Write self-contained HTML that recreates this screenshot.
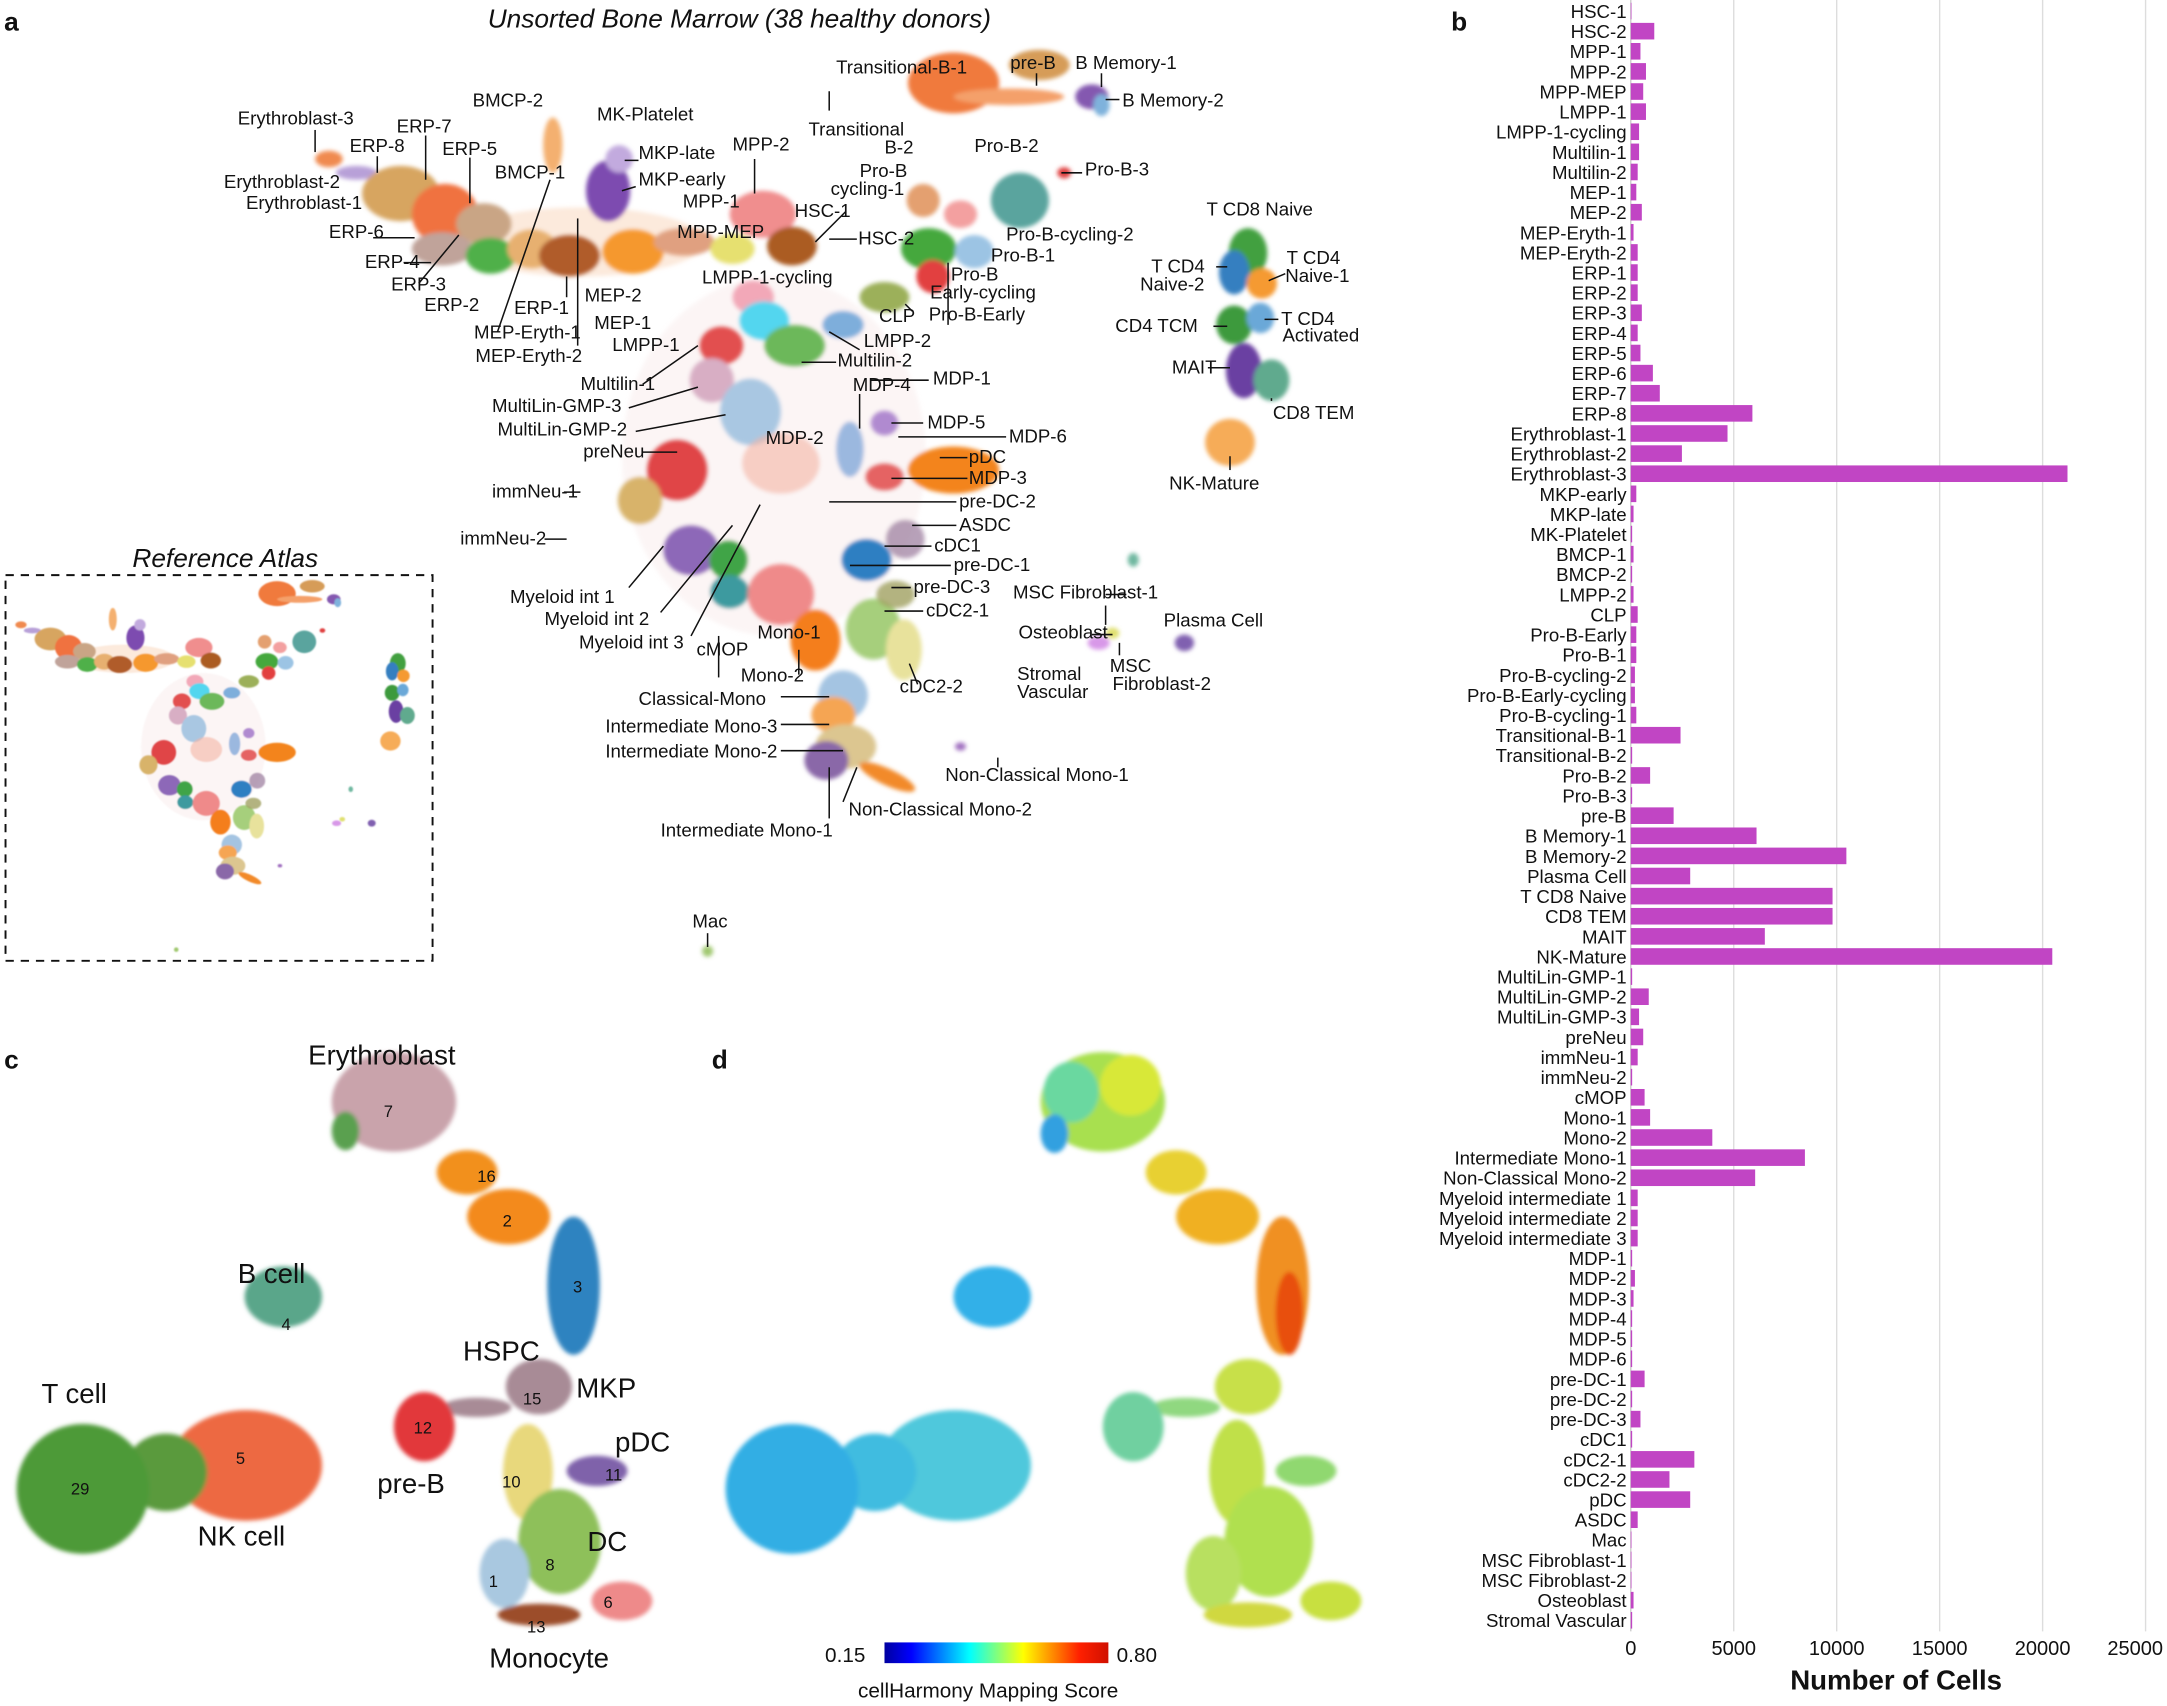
<!DOCTYPE html>
<html><head><meta charset="utf-8"><style>
html,body{margin:0;padding:0;background:#fff}
svg{display:block}
text{font-family:"Liberation Sans",sans-serif;fill:#111}
.l{font-size:13.5px}
.b text{font-size:13.5px;text-anchor:end}
.b rect{fill:#c145c4}
.n{font-size:12px;text-anchor:middle}
.c{font-size:20px}
</style></head><body>
<svg width="2167" height="1706" viewBox="0 0 1568 1234" preserveAspectRatio="none" xmlns="http://www.w3.org/2000/svg">
<defs>
<filter id="f" x="-20%" y="-20%" width="140%" height="140%"><feGaussianBlur stdDeviation="1.5"/></filter>
<linearGradient id="jet" x1="0" x2="1" y1="0" y2="0">
<stop offset="0" stop-color="#0000a0"/><stop offset="0.12" stop-color="#0000ff"/><stop offset="0.38" stop-color="#00ffff"/><stop offset="0.62" stop-color="#ffff00"/><stop offset="0.87" stop-color="#ff2000"/><stop offset="1" stop-color="#d01000"/></linearGradient>
<g id="blobs" filter="url(#f)">
<ellipse cx="560" cy="330" rx="110" ry="130" fill="#f3d8d8" opacity="0.25"/>
<ellipse cx="420" cy="175" rx="90" ry="25" fill="#f5c49a" opacity="0.35"/>
<ellipse cx="690" cy="60" rx="33" ry="22" fill="#f07a3e"/>
<ellipse cx="730" cy="70" rx="40" ry="6" fill="#f4a06a"/>
<ellipse cx="752" cy="47" rx="22" ry="11" fill="#d69c58"/>
<ellipse cx="790" cy="70" rx="12" ry="9" fill="#8458b0"/>
<ellipse cx="797" cy="76" rx="6" ry="8" fill="#7fb2dc"/>
<ellipse cx="770" cy="125" rx="5" ry="4" fill="#e04040"/>
<ellipse cx="238" cy="115" rx="10" ry="6" fill="#f08a50"/>
<ellipse cx="258" cy="125" rx="15" ry="5" fill="#b8a0d8"/>
<ellipse cx="290" cy="140" rx="28" ry="20" fill="#d7a560"/>
<ellipse cx="322" cy="155" rx="24" ry="22" fill="#f07240"/>
<ellipse cx="350" cy="162" rx="20" ry="15" fill="#c9a585"/>
<ellipse cx="320" cy="180" rx="22" ry="12" fill="#c0a39a"/>
<ellipse cx="355" cy="185" rx="18" ry="13" fill="#50b048"/>
<ellipse cx="385" cy="180" rx="18" ry="14" fill="#e7b070"/>
<ellipse cx="412" cy="185" rx="22" ry="15" fill="#b05c2c"/>
<ellipse cx="400" cy="105" rx="7" ry="20" fill="#f4b070"/>
<ellipse cx="440" cy="138" rx="16" ry="22" fill="#7d4cb0"/>
<ellipse cx="448" cy="115" rx="10" ry="10" fill="#c2aade"/>
<ellipse cx="458" cy="182" rx="22" ry="16" fill="#f5982f"/>
<ellipse cx="495" cy="175" rx="22" ry="10" fill="#e0a080"/>
<ellipse cx="552" cy="155" rx="24" ry="17" fill="#f08e8e"/>
<ellipse cx="530" cy="180" rx="16" ry="11" fill="#e6e070"/>
<ellipse cx="573" cy="178" rx="18" ry="14" fill="#ab5b22"/>
<ellipse cx="738" cy="145" rx="21" ry="20" fill="#5aa49e"/>
<ellipse cx="695" cy="155" rx="12" ry="10" fill="#f3a0a0"/>
<ellipse cx="668" cy="145" rx="12" ry="12" fill="#e4a070"/>
<ellipse cx="672" cy="180" rx="20" ry="15" fill="#45a83e"/>
<ellipse cx="705" cy="182" rx="14" ry="12" fill="#9cc4e4"/>
<ellipse cx="675" cy="200" rx="12" ry="12" fill="#e24040"/>
<ellipse cx="640" cy="215" rx="18" ry="11" fill="#9cb05a"/>
<ellipse cx="545" cy="215" rx="15" ry="12" fill="#f2a8b8"/>
<ellipse cx="553" cy="232" rx="18" ry="14" fill="#52d6ef"/>
<ellipse cx="522" cy="250" rx="16" ry="14" fill="#e25050"/>
<ellipse cx="575" cy="250" rx="22" ry="15" fill="#6cb85a"/>
<ellipse cx="610" cy="235" rx="15" ry="10" fill="#4a90d0" opacity="0.7"/>
<ellipse cx="515" cy="275" rx="16" ry="16" fill="#d8aec4"/>
<ellipse cx="543" cy="298" rx="22" ry="24" fill="#a9c7e2"/>
<ellipse cx="490" cy="340" rx="22" ry="22" fill="#e04447"/>
<ellipse cx="463" cy="362" rx="16" ry="17" fill="#d8b36a"/>
<ellipse cx="565" cy="335" rx="28" ry="22" fill="#f3b4a4" opacity="0.6"/>
<ellipse cx="615" cy="325" rx="10" ry="20" fill="#5b8fd0" opacity="0.6"/>
<ellipse cx="640" cy="306" rx="10" ry="9" fill="#b08ad0"/>
<ellipse cx="690" cy="340" rx="33" ry="17" fill="#f3841a"/>
<ellipse cx="640" cy="345" rx="14" ry="10" fill="#e04040" opacity="0.8"/>
<ellipse cx="655" cy="390" rx="14" ry="14" fill="#a58aa8" opacity="0.8"/>
<ellipse cx="627" cy="405" rx="18" ry="15" fill="#2f7fc2"/>
<ellipse cx="500" cy="398" rx="20" ry="18" fill="#8d68b8"/>
<ellipse cx="527" cy="405" rx="14" ry="14" fill="#3fa446"/>
<ellipse cx="528" cy="428" rx="14" ry="12" fill="#3d9a9f"/>
<ellipse cx="565" cy="430" rx="24" ry="22" fill="#ef8a8a"/>
<ellipse cx="632" cy="455" rx="20" ry="22" fill="#a6cf7c"/>
<ellipse cx="654" cy="470" rx="13" ry="22" fill="#e8e29c"/>
<ellipse cx="648" cy="430" rx="14" ry="10" fill="#a0a060" opacity="0.8"/>
<ellipse cx="590" cy="463" rx="18" ry="22" fill="#f47e1c"/>
<ellipse cx="610" cy="503" rx="18" ry="18" fill="#a4c4e2"/>
<ellipse cx="603" cy="517" rx="16" ry="13" fill="#f5a552"/>
<ellipse cx="612" cy="540" rx="22" ry="16" fill="#dcc690"/>
<ellipse cx="598" cy="550" rx="16" ry="14" fill="#8a68a8"/>
<ellipse cx="642" cy="562" rx="22" ry="6" fill="#f28a2a" transform="rotate(25 642 562)"/>
<ellipse cx="903" cy="183" rx="14" ry="18" fill="#43a040"/>
<ellipse cx="893" cy="197" rx="11" ry="16" fill="#357fc0"/>
<ellipse cx="913" cy="205" rx="11" ry="11" fill="#f59a30"/>
<ellipse cx="893" cy="235" rx="13" ry="14" fill="#3c9a3c"/>
<ellipse cx="912" cy="230" rx="10" ry="11" fill="#6aa8d8"/>
<ellipse cx="900" cy="268" rx="13" ry="20" fill="#6a3fa2"/>
<ellipse cx="920" cy="275" rx="13" ry="15" fill="#60aa8e"/>
<ellipse cx="890" cy="320" rx="18" ry="17" fill="#f6ac58"/>
<ellipse cx="857" cy="465" rx="7" ry="6" fill="#8060b0"/>
<ellipse cx="795" cy="465" rx="8" ry="5" fill="#d898e8"/>
<ellipse cx="805" cy="458" rx="5" ry="4" fill="#e0e070"/>
<ellipse cx="820" cy="405" rx="4" ry="5" fill="#70b8a0"/>
<ellipse cx="512" cy="688" rx="4" ry="4" fill="#a0c870"/>
<ellipse cx="695" cy="540" rx="4" ry="3" fill="#a070c0"/>
</g>
</defs>

<text x="3" y="22" style="font-size:19px;font-weight:bold">a</text>
<text x="535" y="20" text-anchor="middle" style="font-size:19px;font-style:italic">Unsorted Bone Marrow (38 healthy donors)</text>
<use href="#blobs"/>
<g class="l">
<text x="605" y="53">Transitional-B-1</text><text x="731" y="50">pre-B</text><text x="778" y="50">B Memory-1</text><text x="812" y="77">B Memory-2</text>
<text x="172" y="90">Erythroblast-3</text><text x="287" y="96">ERP-7</text><text x="253" y="110">ERP-8</text><text x="320" y="112">ERP-5</text>
<text x="342" y="77">BMCP-2</text><text x="432" y="87">MK-Platelet</text><text x="585" y="98">Transitional</text><text x="640" y="111">B-2</text>
<text x="462" y="115">MKP-late</text><text x="462" y="134">MKP-early</text><text x="530" y="109">MPP-2</text><text x="705" y="110">Pro-B-2</text><text x="785" y="127">Pro-B-3</text>
<text x="162" y="136">Erythroblast-2</text><text x="358" y="129">BMCP-1</text><text x="622" y="128">Pro-B</text><text x="601" y="141">cycling-1</text>
<text x="178" y="151">Erythroblast-1</text><text x="494" y="150">MPP-1</text><text x="575" y="157">HSC-1</text><text x="490" y="172">MPP-MEP</text><text x="621" y="177">HSC-2</text>
<text x="238" y="172">ERP-6</text><text x="728" y="174">Pro-B-cycling-2</text><text x="264" y="194">ERP-4</text><text x="717" y="189">Pro-B-1</text>
<text x="283" y="210">ERP-3</text><text x="688" y="203">Pro-B</text><text x="673" y="216">Early-cycling</text><text x="423" y="218">MEP-2</text><text x="508" y="205">LMPP-1-cycling</text>
<text x="307" y="225">ERP-2</text><text x="372" y="227">ERP-1</text><text x="430" y="238">MEP-1</text><text x="636" y="233">CLP</text><text x="672" y="232">Pro-B-Early</text>
<text x="343" y="245">MEP-Eryth-1</text><text x="443" y="254">LMPP-1</text><text x="625" y="251">LMPP-2</text><text x="344" y="262">MEP-Eryth-2</text>
<text x="606" y="265">Multilin-2</text><text x="675" y="278">MDP-1</text><text x="420" y="282">Multilin-1</text><text x="617" y="283">MDP-4</text>
<text x="356" y="298">MultiLin-GMP-3</text><text x="671" y="310">MDP-5</text><text x="360" y="315">MultiLin-GMP-2</text><text x="730" y="320">MDP-6</text>
<text x="554" y="321">MDP-2</text><text x="422" y="331">preNeu</text><text x="701" y="335">pDC</text><text x="701" y="350">MDP-3</text><text x="356" y="360">immNeu-1</text>
<text x="694" y="367">pre-DC-2</text><text x="694" y="384">ASDC</text><text x="333" y="394">immNeu-2</text><text x="676" y="399">cDC1</text><text x="690" y="413">pre-DC-1</text>
<text x="369" y="436">Myeloid int 1</text><text x="661" y="429">pre-DC-3</text><text x="733" y="433">MSC Fibroblast-1</text><text x="670" y="446">cDC2-1</text>
<text x="394" y="452">Myeloid int 2</text><text x="842" y="453">Plasma Cell</text><text x="419" y="469">Myeloid int 3</text><text x="504" y="474">cMOP</text>
<text x="548" y="462">Mono-1</text><text x="737" y="462">Osteoblast</text><text x="536" y="493">Mono-2</text><text x="803" y="486">MSC</text><text x="736" y="492">Stromal</text>
<text x="651" y="501">cDC2-2</text><text x="805" y="499">Fibroblast-2</text><text x="462" y="510">Classical-Mono</text><text x="736" y="505">Vascular</text>
<text x="438" y="530">Intermediate Mono-3</text><text x="438" y="548">Intermediate Mono-2</text><text x="684" y="565">Non-Classical Mono-1</text>
<text x="614" y="590">Non-Classical Mono-2</text><text x="478" y="605">Intermediate Mono-1</text><text x="501" y="671">Mac</text>
<text x="873" y="156">T CD8 Naive</text><text x="833" y="197">T CD4</text><text x="825" y="210">Naive-2</text><text x="931" y="191">T CD4</text><text x="930" y="204">Naive-1</text>
<text x="807" y="240">CD4 TCM</text><text x="927" y="235">T CD4</text><text x="928" y="247">Activated</text><text x="848" y="270">MAIT</text><text x="921" y="303">CD8 TEM</text><text x="846" y="354">NK-Mature</text>
</g>
<g stroke="#111" stroke-width="1.1">
<line x1="600" y1="66" x2="600" y2="80"/><line x1="750" y1="53" x2="750" y2="62"/><line x1="797" y1="53" x2="797" y2="63"/><line x1="800" y1="72" x2="810" y2="72"/>
<line x1="228" y1="94" x2="228" y2="110"/><line x1="308" y1="98" x2="308" y2="130"/><line x1="273" y1="113" x2="273" y2="125"/><line x1="340" y1="114" x2="340" y2="147"/>
<line x1="270" y1="172" x2="300" y2="172"/><line x1="292" y1="190" x2="312" y2="190"/><line x1="303" y1="205" x2="332" y2="170"/>
<line x1="360" y1="240" x2="398" y2="130"/><line x1="418" y1="250" x2="418" y2="158"/><line x1="410" y1="215" x2="410" y2="200"/>
<line x1="460" y1="135" x2="450" y2="138"/><line x1="462" y1="116" x2="452" y2="116"/><line x1="546" y1="115" x2="546" y2="140"/>
<line x1="612" y1="153" x2="590" y2="175"/><line x1="620" y1="173" x2="600" y2="173"/><line x1="686" y1="235" x2="686" y2="190"/>
<line x1="660" y1="225" x2="655" y2="220"/><line x1="622" y1="253" x2="600" y2="240"/><line x1="605" y1="262" x2="580" y2="262"/>
<line x1="672" y1="275" x2="630" y2="275"/><line x1="622" y1="285" x2="622" y2="310"/><line x1="668" y1="306" x2="645" y2="306"/><line x1="728" y1="316" x2="650" y2="316"/>
<line x1="700" y1="331" x2="680" y2="331"/><line x1="700" y1="346" x2="645" y2="346"/><line x1="465" y1="327" x2="490" y2="327"/><line x1="408" y1="356" x2="420" y2="356"/>
<line x1="394" y1="390" x2="410" y2="390"/><line x1="692" y1="363" x2="600" y2="363"/><line x1="692" y1="380" x2="660" y2="380"/><line x1="674" y1="395" x2="640" y2="395"/>
<line x1="688" y1="409" x2="615" y2="409"/><line x1="659" y1="425" x2="645" y2="425"/><line x1="668" y1="442" x2="640" y2="442"/>
<line x1="455" y1="425" x2="480" y2="395"/><line x1="478" y1="443" x2="530" y2="380"/><line x1="500" y1="460" x2="550" y2="365"/>
<line x1="455" y1="295" x2="505" y2="280"/><line x1="460" y1="312" x2="525" y2="300"/><line x1="465" y1="278" x2="505" y2="250"/>
<line x1="520" y1="490" x2="520" y2="460"/><line x1="578" y1="488" x2="578" y2="470"/><line x1="565" y1="504" x2="600" y2="504"/>
<line x1="565" y1="524" x2="600" y2="524"/><line x1="565" y1="543" x2="610" y2="543"/><line x1="600" y1="592" x2="600" y2="555"/><line x1="610" y1="580" x2="620" y2="555"/>
<line x1="722" y1="548" x2="722" y2="555"/><line x1="512" y1="675" x2="512" y2="685"/><line x1="664" y1="495" x2="658" y2="480"/>
<line x1="800" y1="430" x2="815" y2="430"/><line x1="800" y1="438" x2="800" y2="452"/><line x1="790" y1="459" x2="805" y2="459"/><line x1="810" y1="474" x2="810" y2="465"/>
<line x1="878" y1="236" x2="888" y2="236"/><line x1="874" y1="266" x2="890" y2="266"/><line x1="920" y1="288" x2="920" y2="290"/><line x1="890" y1="340" x2="890" y2="330"/>
<line x1="880" y1="193" x2="888" y2="193"/><line x1="930" y1="198" x2="918" y2="203"/><line x1="925" y1="231" x2="915" y2="231"/>
<line x1="783" y1="125" x2="768" y2="125"/>
</g>

<text x="163" y="410" text-anchor="middle" style="font-size:19px;font-style:italic">Reference Atlas</text>
<rect x="4" y="416" width="309" height="279" fill="none" stroke="#111" stroke-width="1.4" stroke-dasharray="6,5"/>
<use href="#blobs" transform="translate(-82.4,404.8) scale(0.41)"/>

<text x="3" y="773" style="font-size:19px;font-weight:bold">c</text>
<g filter="url(#f)">
<ellipse cx="285" cy="797" rx="45" ry="36" fill="#c9a3ab"/>
<ellipse cx="250" cy="818" rx="10" ry="14" fill="#5aa050"/>
<ellipse cx="338" cy="848" rx="22" ry="16" fill="#f2901e"/>
<ellipse cx="368" cy="880" rx="30" ry="20" fill="#f38a1c"/>
<ellipse cx="415" cy="930" rx="19" ry="50" fill="#2e83c0"/>
<ellipse cx="390" cy="1003" rx="24" ry="20" fill="#a88b96"/>
<ellipse cx="345" cy="1018" rx="25" ry="7" fill="#a88b96"/>
<ellipse cx="307" cy="1032" rx="22" ry="25" fill="#e2383a"/>
<ellipse cx="382" cy="1065" rx="18" ry="35" fill="#e8d87c"/>
<ellipse cx="432" cy="1064" rx="22" ry="11" fill="#7f62aa"/>
<ellipse cx="405" cy="1115" rx="30" ry="38" fill="#8ec05a"/>
<ellipse cx="365" cy="1138" rx="18" ry="25" fill="#a9c8e0"/>
<ellipse cx="450" cy="1158" rx="22" ry="14" fill="#ee8a8a"/>
<ellipse cx="390" cy="1168" rx="30" ry="8" fill="#9c4e2a"/>
<ellipse cx="205" cy="938" rx="28" ry="22" fill="#5aa68a"/>
<ellipse cx="178" cy="1060" rx="55" ry="40" fill="#ed6943"/>
<ellipse cx="120" cy="1065" rx="30" ry="28" fill="#5a9a3c"/>
<ellipse cx="60" cy="1077" rx="48" ry="47" fill="#4d9a38"/>
</g>
<g class="c">
<text x="223" y="770">Erythroblast</text><text x="172" y="928">B cell</text><text x="30" y="1015">T cell</text><text x="335" y="984">HSPC</text>
<text x="417" y="1011">MKP</text><text x="445" y="1050">pDC</text><text x="273" y="1080">pre-B</text><text x="425" y="1122">DC</text>
<text x="143" y="1118">NK cell</text><text x="354" y="1206">Monocyte</text>
</g>
<g class="n">
<text x="281" y="808">7</text><text x="352" y="855">16</text><text x="367" y="887">2</text><text x="418" y="935">3</text><text x="207" y="962">4</text>
<text x="385" y="1016">15</text><text x="306" y="1037">12</text><text x="174" y="1059">5</text><text x="370" y="1076">10</text><text x="444" y="1071">11</text>
<text x="58" y="1081">29</text><text x="398" y="1136">8</text><text x="357" y="1148">1</text><text x="440" y="1163">6</text><text x="388" y="1181">13</text>
</g>

<text x="515" y="773" style="font-size:19px;font-weight:bold">d</text>
<g transform="translate(513,0)" filter="url(#f)">
<ellipse cx="285" cy="797" rx="45" ry="36" fill="#a8e050"/>
<ellipse cx="262" cy="790" rx="20" ry="22" fill="#6ad8a0"/>
<ellipse cx="250" cy="820" rx="10" ry="14" fill="#30a0e0"/>
<ellipse cx="305" cy="785" rx="22" ry="22" fill="#d8e838"/>
<ellipse cx="338" cy="848" rx="22" ry="16" fill="#e8d030"/>
<ellipse cx="368" cy="880" rx="30" ry="20" fill="#f0b020"/>
<ellipse cx="415" cy="930" rx="19" ry="50" fill="#f09020"/>
<ellipse cx="420" cy="950" rx="10" ry="30" fill="#e85010"/>
<ellipse cx="390" cy="1003" rx="24" ry="20" fill="#c8e048"/>
<ellipse cx="345" cy="1018" rx="25" ry="7" fill="#90d880"/>
<ellipse cx="307" cy="1032" rx="22" ry="25" fill="#70d0a0"/>
<ellipse cx="382" cy="1065" rx="20" ry="38" fill="#c0e048"/>
<ellipse cx="432" cy="1064" rx="22" ry="11" fill="#90d870"/>
<ellipse cx="405" cy="1115" rx="32" ry="40" fill="#b0e050"/>
<ellipse cx="365" cy="1138" rx="20" ry="27" fill="#b8e060"/>
<ellipse cx="450" cy="1158" rx="22" ry="14" fill="#c8e040"/>
<ellipse cx="390" cy="1168" rx="32" ry="9" fill="#d0d840"/>
<ellipse cx="205" cy="938" rx="28" ry="22" fill="#30b0e8"/>
<ellipse cx="178" cy="1060" rx="55" ry="40" fill="#50c8dc"/>
<ellipse cx="120" cy="1065" rx="30" ry="28" fill="#40bce0"/>
<ellipse cx="60" cy="1077" rx="48" ry="47" fill="#30aee4"/>
</g>
<rect x="640" y="1188" width="162" height="15" fill="url(#jet)"/>
<text x="597" y="1202" style="font-size:15px">0.15</text>
<text x="808" y="1202" style="font-size:15px">0.80</text>
<text x="715" y="1228" text-anchor="middle" style="font-size:15px">cellHarmony Mapping Score</text>

<text x="1050" y="22" style="font-size:19px;font-weight:bold">b</text>
<g stroke="#ddd" stroke-width="1">
<line x1="1254.5" y1="0" x2="1254.5" y2="1180"/><line x1="1329" y1="0" x2="1329" y2="1180"/><line x1="1403.5" y1="0" x2="1403.5" y2="1180"/><line x1="1478" y1="0" x2="1478" y2="1180"/><line x1="1552.5" y1="0" x2="1552.5" y2="1180"/>
</g>
<line x1="1180" y1="0" x2="1180" y2="1180" stroke="#ccc"/>
<g class="b">
<g transform="translate(0,8)"><text x="1177" y="5">HSC-1</text><rect x="1180" y="-6" width="0.5" height="12"/></g>
<g transform="translate(0,22.55)"><text x="1177" y="5">HSC-2</text><rect x="1180" y="-6" width="17" height="12"/></g>
<g transform="translate(0,37.1)"><text x="1177" y="5">MPP-1</text><rect x="1180" y="-6" width="7" height="12"/></g>
<g transform="translate(0,51.65)"><text x="1177" y="5">MPP-2</text><rect x="1180" y="-6" width="11" height="12"/></g>
<g transform="translate(0,66.2)"><text x="1177" y="5">MPP-MEP</text><rect x="1180" y="-6" width="9" height="12"/></g>
<g transform="translate(0,80.75)"><text x="1177" y="5">LMPP-1</text><rect x="1180" y="-6" width="11" height="12"/></g>
<g transform="translate(0,95.3)"><text x="1177" y="5">LMPP-1-cycling</text><rect x="1180" y="-6" width="6" height="12"/></g>
<g transform="translate(0,109.85)"><text x="1177" y="5">Multilin-1</text><rect x="1180" y="-6" width="6" height="12"/></g>
<g transform="translate(0,124.4)"><text x="1177" y="5">Multilin-2</text><rect x="1180" y="-6" width="5" height="12"/></g>
<g transform="translate(0,138.95)"><text x="1177" y="5">MEP-1</text><rect x="1180" y="-6" width="4" height="12"/></g>
<g transform="translate(0,153.5)"><text x="1177" y="5">MEP-2</text><rect x="1180" y="-6" width="8" height="12"/></g>
<g transform="translate(0,168.05)"><text x="1177" y="5">MEP-Eryth-1</text><rect x="1180" y="-6" width="2" height="12"/></g>
<g transform="translate(0,182.6)"><text x="1177" y="5">MEP-Eryth-2</text><rect x="1180" y="-6" width="5" height="12"/></g>
<g transform="translate(0,197.15)"><text x="1177" y="5">ERP-1</text><rect x="1180" y="-6" width="5" height="12"/></g>
<g transform="translate(0,211.7)"><text x="1177" y="5">ERP-2</text><rect x="1180" y="-6" width="5" height="12"/></g>
<g transform="translate(0,226.25)"><text x="1177" y="5">ERP-3</text><rect x="1180" y="-6" width="8" height="12"/></g>
<g transform="translate(0,240.8)"><text x="1177" y="5">ERP-4</text><rect x="1180" y="-6" width="5" height="12"/></g>
<g transform="translate(0,255.35)"><text x="1177" y="5">ERP-5</text><rect x="1180" y="-6" width="7" height="12"/></g>
<g transform="translate(0,269.9)"><text x="1177" y="5">ERP-6</text><rect x="1180" y="-6" width="16" height="12"/></g>
<g transform="translate(0,284.45)"><text x="1177" y="5">ERP-7</text><rect x="1180" y="-6" width="21" height="12"/></g>
<g transform="translate(0,299)"><text x="1177" y="5">ERP-8</text><rect x="1180" y="-6" width="88" height="12"/></g>
<g transform="translate(0,313.55)"><text x="1177" y="5">Erythroblast-1</text><rect x="1180" y="-6" width="70" height="12"/></g>
<g transform="translate(0,328.1)"><text x="1177" y="5">Erythroblast-2</text><rect x="1180" y="-6" width="37" height="12"/></g>
<g transform="translate(0,342.65)"><text x="1177" y="5">Erythroblast-3</text><rect x="1180" y="-6" width="316" height="12"/></g>
<g transform="translate(0,357.2)"><text x="1177" y="5">MKP-early</text><rect x="1180" y="-6" width="4" height="12"/></g>
<g transform="translate(0,371.75)"><text x="1177" y="5">MKP-late</text><rect x="1180" y="-6" width="2" height="12"/></g>
<g transform="translate(0,386.3)"><text x="1177" y="5">MK-Platelet</text><rect x="1180" y="-6" width="1" height="12"/></g>
<g transform="translate(0,400.85)"><text x="1177" y="5">BMCP-1</text><rect x="1180" y="-6" width="2" height="12"/></g>
<g transform="translate(0,415.4)"><text x="1177" y="5">BMCP-2</text><rect x="1180" y="-6" width="1" height="12"/></g>
<g transform="translate(0,429.95)"><text x="1177" y="5">LMPP-2</text><rect x="1180" y="-6" width="2" height="12"/></g>
<g transform="translate(0,444.5)"><text x="1177" y="5">CLP</text><rect x="1180" y="-6" width="5" height="12"/></g>
<g transform="translate(0,459.05)"><text x="1177" y="5">Pro-B-Early</text><rect x="1180" y="-6" width="4" height="12"/></g>
<g transform="translate(0,473.6)"><text x="1177" y="5">Pro-B-1</text><rect x="1180" y="-6" width="4" height="12"/></g>
<g transform="translate(0,488.15)"><text x="1177" y="5">Pro-B-cycling-2</text><rect x="1180" y="-6" width="3" height="12"/></g>
<g transform="translate(0,502.7)"><text x="1177" y="5">Pro-B-Early-cycling</text><rect x="1180" y="-6" width="3" height="12"/></g>
<g transform="translate(0,517.25)"><text x="1177" y="5">Pro-B-cycling-1</text><rect x="1180" y="-6" width="4" height="12"/></g>
<g transform="translate(0,531.8)"><text x="1177" y="5">Transitional-B-1</text><rect x="1180" y="-6" width="36" height="12"/></g>
<g transform="translate(0,546.35)"><text x="1177" y="5">Transitional-B-2</text><rect x="1180" y="-6" width="1" height="12"/></g>
<g transform="translate(0,560.9)"><text x="1177" y="5">Pro-B-2</text><rect x="1180" y="-6" width="14" height="12"/></g>
<g transform="translate(0,575.45)"><text x="1177" y="5">Pro-B-3</text><rect x="1180" y="-6" width="1" height="12"/></g>
<g transform="translate(0,590)"><text x="1177" y="5">pre-B</text><rect x="1180" y="-6" width="31" height="12"/></g>
<g transform="translate(0,604.55)"><text x="1177" y="5">B Memory-1</text><rect x="1180" y="-6" width="91" height="12"/></g>
<g transform="translate(0,619.1)"><text x="1177" y="5">B Memory-2</text><rect x="1180" y="-6" width="156" height="12"/></g>
<g transform="translate(0,633.65)"><text x="1177" y="5">Plasma Cell</text><rect x="1180" y="-6" width="43" height="12"/></g>
<g transform="translate(0,648.2)"><text x="1177" y="5">T CD8 Naive</text><rect x="1180" y="-6" width="146" height="12"/></g>
<g transform="translate(0,662.75)"><text x="1177" y="5">CD8 TEM</text><rect x="1180" y="-6" width="146" height="12"/></g>
<g transform="translate(0,677.3)"><text x="1177" y="5">MAIT</text><rect x="1180" y="-6" width="97" height="12"/></g>
<g transform="translate(0,691.85)"><text x="1177" y="5">NK-Mature</text><rect x="1180" y="-6" width="305" height="12"/></g>
<g transform="translate(0,706.4)"><text x="1177" y="5">MultiLin-GMP-1</text><rect x="1180" y="-6" width="1" height="12"/></g>
<g transform="translate(0,720.95)"><text x="1177" y="5">MultiLin-GMP-2</text><rect x="1180" y="-6" width="13" height="12"/></g>
<g transform="translate(0,735.5)"><text x="1177" y="5">MultiLin-GMP-3</text><rect x="1180" y="-6" width="6" height="12"/></g>
<g transform="translate(0,750.05)"><text x="1177" y="5">preNeu</text><rect x="1180" y="-6" width="9" height="12"/></g>
<g transform="translate(0,764.6)"><text x="1177" y="5">immNeu-1</text><rect x="1180" y="-6" width="5" height="12"/></g>
<g transform="translate(0,779.15)"><text x="1177" y="5">immNeu-2</text><rect x="1180" y="-6" width="1" height="12"/></g>
<g transform="translate(0,793.7)"><text x="1177" y="5">cMOP</text><rect x="1180" y="-6" width="10" height="12"/></g>
<g transform="translate(0,808.25)"><text x="1177" y="5">Mono-1</text><rect x="1180" y="-6" width="14" height="12"/></g>
<g transform="translate(0,822.8)"><text x="1177" y="5">Mono-2</text><rect x="1180" y="-6" width="59" height="12"/></g>
<g transform="translate(0,837.35)"><text x="1177" y="5">Intermediate Mono-1</text><rect x="1180" y="-6" width="126" height="12"/></g>
<g transform="translate(0,851.9)"><text x="1177" y="5">Non-Classical Mono-2</text><rect x="1180" y="-6" width="90" height="12"/></g>
<g transform="translate(0,866.45)"><text x="1177" y="5">Myeloid intermediate 1</text><rect x="1180" y="-6" width="5" height="12"/></g>
<g transform="translate(0,881)"><text x="1177" y="5">Myeloid intermediate 2</text><rect x="1180" y="-6" width="5" height="12"/></g>
<g transform="translate(0,895.55)"><text x="1177" y="5">Myeloid intermediate 3</text><rect x="1180" y="-6" width="5" height="12"/></g>
<g transform="translate(0,910.1)"><text x="1177" y="5">MDP-1</text><rect x="1180" y="-6" width="1" height="12"/></g>
<g transform="translate(0,924.65)"><text x="1177" y="5">MDP-2</text><rect x="1180" y="-6" width="3" height="12"/></g>
<g transform="translate(0,939.2)"><text x="1177" y="5">MDP-3</text><rect x="1180" y="-6" width="2" height="12"/></g>
<g transform="translate(0,953.75)"><text x="1177" y="5">MDP-4</text><rect x="1180" y="-6" width="1" height="12"/></g>
<g transform="translate(0,968.3)"><text x="1177" y="5">MDP-5</text><rect x="1180" y="-6" width="1" height="12"/></g>
<g transform="translate(0,982.85)"><text x="1177" y="5">MDP-6</text><rect x="1180" y="-6" width="1" height="12"/></g>
<g transform="translate(0,997.4)"><text x="1177" y="5">pre-DC-1</text><rect x="1180" y="-6" width="10" height="12"/></g>
<g transform="translate(0,1011.95)"><text x="1177" y="5">pre-DC-2</text><rect x="1180" y="-6" width="1" height="12"/></g>
<g transform="translate(0,1026.5)"><text x="1177" y="5">pre-DC-3</text><rect x="1180" y="-6" width="7" height="12"/></g>
<g transform="translate(0,1041.05)"><text x="1177" y="5">cDC1</text><rect x="1180" y="-6" width="1" height="12"/></g>
<g transform="translate(0,1055.6)"><text x="1177" y="5">cDC2-1</text><rect x="1180" y="-6" width="46" height="12"/></g>
<g transform="translate(0,1070.15)"><text x="1177" y="5">cDC2-2</text><rect x="1180" y="-6" width="28" height="12"/></g>
<g transform="translate(0,1084.7)"><text x="1177" y="5">pDC</text><rect x="1180" y="-6" width="43" height="12"/></g>
<g transform="translate(0,1099.25)"><text x="1177" y="5">ASDC</text><rect x="1180" y="-6" width="5" height="12"/></g>
<g transform="translate(0,1113.8)"><text x="1177" y="5">Mac</text><rect x="1180" y="-6" width="0.5" height="12"/></g>
<g transform="translate(0,1128.35)"><text x="1177" y="5">MSC Fibroblast-1</text><rect x="1180" y="-6" width="0.5" height="12"/></g>
<g transform="translate(0,1142.9)"><text x="1177" y="5">MSC Fibroblast-2</text><rect x="1180" y="-6" width="0.5" height="12"/></g>
<g transform="translate(0,1157.45)"><text x="1177" y="5">Osteoblast</text><rect x="1180" y="-6" width="2" height="12"/></g>
<g transform="translate(0,1172)"><text x="1177" y="5">Stromal Vascular</text><rect x="1180" y="-6" width="1" height="12"/></g>
</g>
<g style="font-size:14.5px" text-anchor="middle">
<text x="1180" y="1197">0</text><text x="1254.5" y="1197">5000</text><text x="1329" y="1197">10000</text><text x="1403.5" y="1197">15000</text><text x="1478" y="1197">20000</text><text x="1545" y="1197">25000</text>
</g>
<text x="1372" y="1222" text-anchor="middle" style="font-size:20px;font-weight:bold">Number of Cells</text>
</svg>
</body></html>
